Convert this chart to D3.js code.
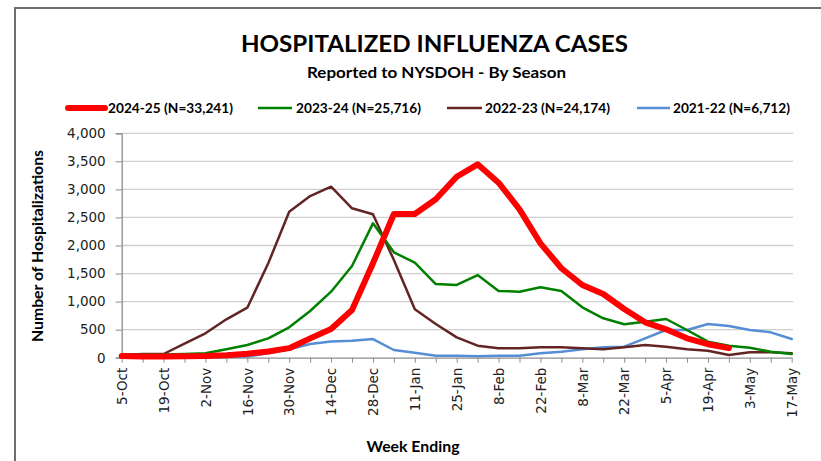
<!DOCTYPE html>
<html><head><meta charset="utf-8">
<script src="https://cdn.jsdelivr.net/npm/d3@7"></script>
<style>
html,body{margin:0;padding:0;background:#fff;}
svg{display:block;}
</style></head>
<body>
<svg id="chart" width="821" height="461"></svg>
<script>
const weeks = ["5-Oct","12-Oct","19-Oct","26-Oct","2-Nov","9-Nov","16-Nov","23-Nov","30-Nov","7-Dec","14-Dec","21-Dec","28-Dec","4-Jan","11-Jan","18-Jan","25-Jan","1-Feb","8-Feb","15-Feb","22-Feb","1-Mar","8-Mar","15-Mar","22-Mar","29-Mar","5-Apr","12-Apr","19-Apr","26-Apr","3-May","10-May","17-May"];
const s2425 = [30,20,20,25,30,45,70,110,170,345,511,850,1683,2561,2561,2823,3226,3447,3119,2645,2039,1594,1296,1135,868,631,506,345,240,170];
const s2324 = [48,55,55,66,78,150,226,345,541,832,1177,1634,2395,1878,1693,1313,1296,1474,1189,1177,1255,1189,898,702,595,642,690,494,285,214,178,107,66];
const s2223 = [50,66,66,250,435,684,891,1683,2603,2882,3048,2663,2556,1741,862,600,363,214,167,167,185,185,167,150,185,226,196,150,125,48,96,96,78];
const s2122 = [10,10,10,10,10,15,20,80,150,244,290,303,333,137,89,36,36,24,36,36,78,107,150,185,196,345,494,494,600,565,494,452,333];
const seriesNames = ["2024-25 (N=33,241)","2023-24 (N=25,716)","2022-23 (N=24,174)","2021-22 (N=6,712)"];
const yTicks = [0,500,1000,1500,2000,2500,3000,3500,4000];

const svg = d3.select("#chart");
const boldFont = "Lato, 'Open Sans', sans-serif";
const tickFont = "'DejaVu Sans', sans-serif";

// outer border
svg.append("rect").attr("x",15).attr("y",8).attr("width",830).attr("height",470)
  .attr("fill","none").attr("stroke","#6e6e6e").attr("stroke-width",2);

const L = 121.7, R = 791.7, T = 133.3, B = 357.7;
const x = d3.scaleLinear().domain([0, weeks.length-1]).range([L, R]);
const y = d3.scaleLinear().domain([0, 4000]).range([B, T]);

// gridlines
svg.append("g").selectAll("line").data(yTicks.filter(d=>d>0)).join("line")
  .attr("x1",L).attr("x2",R+1.5).attr("y1",d=>y(d)).attr("y2",d=>y(d))
  .attr("stroke","#cfcfcf").attr("stroke-width",1.3);

// y axis
const yAxis = svg.append("g").attr("transform",`translate(${L},0)`)
  .call(d3.axisLeft(y).tickValues(yTicks).tickFormat(d3.format(",")).tickSize(6).tickPadding(10));
yAxis.select(".domain").attr("stroke","#8c8c8c").attr("stroke-width",1.3);
yAxis.selectAll(".tick line").attr("stroke","#8c8c8c");
yAxis.selectAll("text").attr("font-family",tickFont).attr("font-size",13.5).attr("fill","#222");

// x axis
const xAxis = svg.append("g").attr("transform",`translate(0,${B})`)
  .call(d3.axisBottom(x).tickValues(d3.range(weeks.length)).tickFormat(i => i%2===0 ? weeks[i] : "").tickSize(5).tickSizeOuter(0));
xAxis.select(".domain").attr("stroke","#8c8c8c").attr("stroke-width",1.3);
xAxis.selectAll(".tick line").attr("stroke","#8c8c8c");
xAxis.selectAll("text").attr("font-family",tickFont).attr("font-size",13.5).attr("fill","#222")
  .attr("transform","rotate(-90)").attr("text-anchor","end")
  .attr("x",-10).attr("y",0).attr("dy","0.35em");

// lines
const line = d3.line().x((d,i)=>x(i)).y(d=>y(d));
const styles = [
  {data:s2425, color:"#ff0000", w:6},
  {data:s2324, color:"#008000", w:2.5},
  {data:s2223, color:"#632523", w:2.5},
  {data:s2122, color:"#558ed5", w:2.5}
];
const drawOrder = [3,2,1,0];
drawOrder.forEach(k => {
  const s = styles[k];
  svg.append("path").datum(s.data).attr("d",line).attr("fill","none")
    .attr("stroke",s.color).attr("stroke-width",s.w)
    .attr("stroke-linejoin","round").attr("stroke-linecap","round");
});

// titles
svg.append("text").attr("x",434.5).attr("y",52).attr("text-anchor","middle")
  .attr("font-family",boldFont).attr("font-weight","bold").attr("font-size",22.5)
  .attr("textLength",387).attr("lengthAdjust","spacingAndGlyphs").attr("fill","#000")
  .text("HOSPITALIZED INFLUENZA CASES");
svg.append("text").attr("x",436.5).attr("y",78).attr("text-anchor","middle")
  .attr("font-family",boldFont).attr("font-weight","bold").attr("font-size",15)
  .attr("textLength",259).attr("lengthAdjust","spacingAndGlyphs").attr("fill","#000")
  .text("Reported to NYSDOH - By Season");

// legend
const legendPos = [{x1:68,x2:105,tx:108,tw:125},{x1:258,x2:292,tx:296,tw:125},{x1:447,x2:482,tx:485,tw:125},{x1:637,x2:670,tx:673,tw:117}];
legendPos.forEach((p,k) => {
  const s = styles[k];
  svg.append("line").attr("x1",p.x1).attr("x2",p.x2).attr("y1",108).attr("y2",108)
    .attr("stroke",s.color).attr("stroke-width",k===0?6:2.5).attr("stroke-linecap",k===0?"round":"butt");
  svg.append("text").attr("x",p.tx).attr("y",113)
    .attr("font-family",boldFont).attr("font-weight","bold").attr("font-size",14)
    .attr("textLength",p.tw).attr("lengthAdjust","spacingAndGlyphs").attr("fill","#000")
    .text(seriesNames[k]);
});

// axis titles
svg.append("text").attr("transform","translate(43,246) rotate(-90)").attr("text-anchor","middle")
  .attr("font-family",boldFont).attr("font-weight","bold").attr("font-size",14.5)
  .attr("textLength",192).attr("lengthAdjust","spacingAndGlyphs").attr("fill","#000")
  .text("Number of Hospitalizations");
svg.append("text").attr("x",413).attr("y",452).attr("text-anchor","middle")
  .attr("font-family",boldFont).attr("font-weight","bold").attr("font-size",15.5)
  .attr("textLength",93).attr("lengthAdjust","spacingAndGlyphs").attr("fill","#000")
  .text("Week Ending");
</script>
</body></html>
